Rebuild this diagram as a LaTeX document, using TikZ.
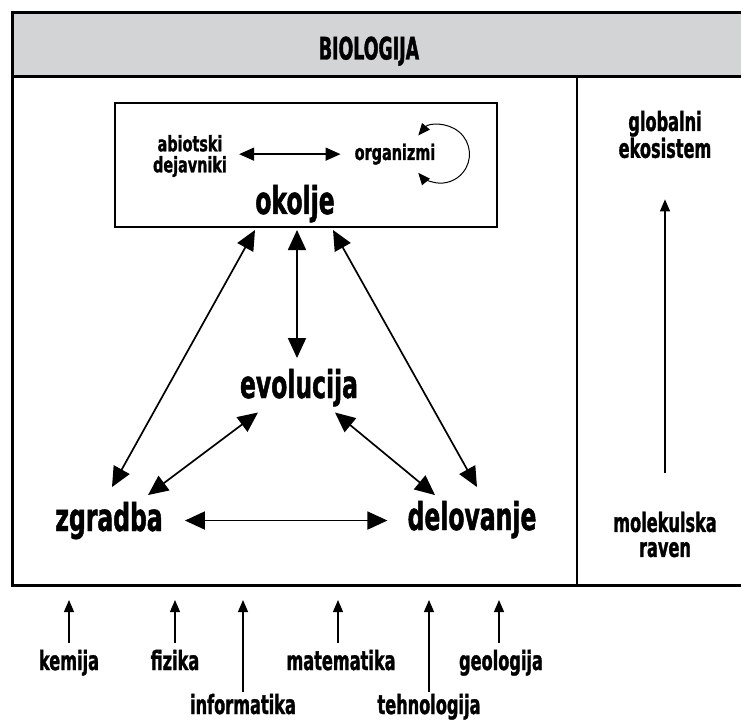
\documentclass[tikz,border=0pt]{standalone}
\usepackage{fontspec}
\newfontfamily\lowf{DejaVu Sans}[FakeStretch=0.61, BoldFeatures={FakeBold=1.2}]
\newfontfamily\smf{DejaVu Sans}[FakeStretch=0.67, BoldFeatures={FakeBold=1.2}]
\newfontfamily\capf{DejaVu Sans}[FakeStretch=0.56, BoldFeatures={FakeBold=1.2}]
\usetikzlibrary{arrows.meta}
\definecolor{hdrgray}{RGB}{211,212,214}
\begin{document}
\begin{tikzpicture}[x=1pt,y=-1pt,
  capnode/.style={font=\capf\bfseries\fontsize{31}{31}\selectfont, inner sep=0pt, anchor=base},
  big/.style={font=\lowf\bfseries\fontsize{38.5}{38.5}\selectfont, inner sep=0pt, anchor=base},
  sml/.style={font=\smf\bfseries\fontsize{21.5}{21}\selectfont, inner sep=0pt, align=center},
  ext/.style={font=\lowf\bfseries\fontsize{26.5}{25}\selectfont, inner sep=0pt, align=center},
  extb/.style={ext, anchor=base},
  marr/.style={line width=1.7pt, {Triangle[length=20pt,width=18pt]}-{Triangle[length=20pt,width=18pt]}},
  iarr/.style={line width=1.5pt, {Triangle[length=15pt,width=13pt]}-{Triangle[length=15pt,width=13pt]}},
  larr/.style={line width=1pt, {Triangle[length=12pt,width=10pt]}-{Triangle[length=12pt,width=10pt]}},
  barr/.style={line width=1.3pt, -{Triangle[length=12pt,width=10pt]}},
  frame/.style={line width=3pt}
]
\useasboundingbox (0,0) rectangle (741,722);

% frame
\fill[hdrgray] (12,13) rectangle (745,77);
\draw[frame] (745,13) -- (12,13) -- (12,585) -- (745,585);
\draw[frame] (12,77) -- (745,77);
\draw[line width=2.5pt] (577,77) -- (577,585);

\node[capnode] (bio) at (369,59.5) {BIOLOGIJA};

% environment box
\node[draw, line width=2pt, minimum width=382pt, minimum height=124pt, inner sep=0pt] (env) at (306,165) {};
\node[sml] (ab) at (190,156) {abiotski\\dejavniki};
\node[sml, anchor=base] (org) at (395,160) {organizmi};
\node[big] (ok) at (295,214) {okolje};

\draw[iarr, shorten <=12pt, shorten >=14pt] (ab.east |- org.west) -- (org.west);
\draw[larr] ([xshift=5pt]org.east) ++(220:29) arc[start angle=220, end angle=500, radius=29];

% main nodes
\node[big] (evo) at (299,398) {evolucija};
\node[big] (zg) at (109,531) {zgradba};
\node[big] (del) at (472,530) {delovanje};

\draw[marr] ([shift={(-51pt,-2pt)}]env.south) -- ([shift={(3pt,14.5pt)}]zg.north);
\draw[marr] ([shift={(-9pt,-2pt)}]env.south) -- ([shift={(-2pt,10.5pt)}]evo.north);
\draw[marr] ([shift={(27pt,-2pt)}]env.south) -- ([shift={(5pt,13.5pt)}]del.north);
\draw[marr] ([shift={(-41pt,-6pt)}]evo.south) -- ([shift={(39pt,6.5pt)}]zg.north);
\draw[marr] ([shift={(36pt,-6pt)}]evo.south) -- ([shift={(-37pt,5.5pt)}]del.north);
\draw[marr, shorten <=22pt, shorten >=20pt] (zg.east) -- (del.west |- zg.east);

% right column
\node[ext] (glob) at (665,134.5) {globalni\\ekosistem};
\node[ext] (mol) at (665,534.5) {molekulska\\raven};
\draw[barr, shorten <=39pt, shorten >=41pt] (mol.north) -- (glob.south);

% bottom labels
\coordinate (btop) at (0,600);
\node[extb] (kem) at (69,670) {kemija};
\node[extb] (fiz) at (175,670) {fizika};
\node[extb] (mat) at (341,670) {matematika};
\node[extb] (geo) at (501,670) {geologija};
\node[extb] (inf) at (243,714) {informatika};
\node[extb] (teh) at (429,714) {tehnologija};

\draw[barr] ([yshift=7pt]kem.north) -- (kem.north |- btop);
\draw[barr] ([yshift=7pt]fiz.north) -- (fiz.north |- btop);
\draw[barr] ([shift={(-3pt,7pt)}]mat.north) -- ([xshift=-3pt]mat.north |- btop);
\draw[barr] ([shift={(-2pt,7pt)}]geo.north) -- ([xshift=-2pt]geo.north |- btop);
\draw[barr] ([yshift=2pt]inf.north) -- (inf.north |- btop);
\draw[barr] ([yshift=2pt]teh.north) -- (teh.north |- btop);
\end{tikzpicture}
\end{document}
